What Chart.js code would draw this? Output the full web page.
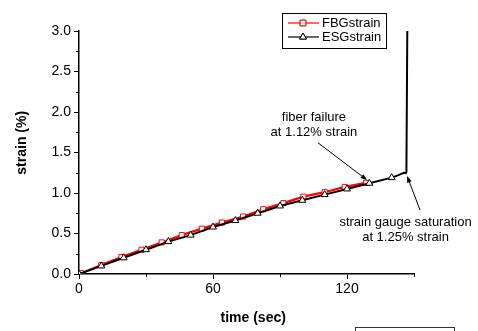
<!DOCTYPE html>
<html>
<head>
<meta charset="utf-8">
<script src="https://cdn.jsdelivr.net/npm/chart.js@4/dist/chart.umd.min.js"></script>
<style>
    body { margin: 0; background: #fff; }
    #wrap { width: 478px; height: 331px; }
</style>
</head>
<body>
<div id="wrap"><canvas id="strainChart" width="478" height="331"></canvas></div>
<script>
// data
const fbgLabel = 'FBGstrain';
const fbgTime = [1, 10, 19, 28, 37, 46, 55, 64, 73.5, 82.5, 91.5, 100.5, 110, 119, 128.5];
const fbgStrain = [0.01, 0.11, 0.21, 0.30, 0.39, 0.48, 0.56, 0.635, 0.71, 0.80, 0.875, 0.955, 1.01, 1.075, 1.125];

const esgLabel = 'ESGstrain';
const esgTime = [0, 10, 20, 30, 40, 50, 60, 70, 80, 90, 100, 110, 120, 130, 140, 143, 145.5, 146.3, 146.6, 147];
const esgStrain = [0, 0.10, 0.20, 0.30, 0.40, 0.48, 0.58, 0.66, 0.75, 0.84, 0.91, 0.98, 1.05, 1.12, 1.19, 1.22, 1.25, 1.245, 1.26, 3.0];
// triangles only on the 10 s samples
const esgMarked = [true, true, true, true, true, true, true, true, true, true, true, true, true, true, true, false, false, false, false, false];

const xTicks = [0, 60, 120];
const xMinor = [30, 90, 150];
const yTicks = [0, 0.5, 1.0, 1.5, 2.0, 2.5, 3.0];
const yMinor = [0.25, 0.75, 1.25, 1.75, 2.25, 2.75];

const xTitle = 'time (sec)';
const yTitle = 'strain (%)';

// annotations: text anchor and arrow in data units
const notes = [
    { lines: ['fiber failure', 'at 1.12% strain'], t: 105.2, s: 1.93, from: [107, 1.62], to: [129, 1.16] },
    { lines: ['strain gauge saturation', 'at 1.25% strain'], t: 146.2, s: 0.64, from: [152.7, 0.79], to: [146.9, 1.21] }
];

const FONT = '"Liberation Sans", Arial, sans-serif';

function toPoints(xs, ys) {
    return xs.map((x, i) => ({ x: x, y: ys[i] }));
}

// arrow with a small filled head
function drawArrow(ctx, x1, y1, x2, y2) {
    const ang = Math.atan2(y2 - y1, x2 - x1);
    const head = 7;
    ctx.beginPath();
    ctx.moveTo(x1, y1);
    ctx.lineTo(x2 - Math.cos(ang) * 4, y2 - Math.sin(ang) * 4);
    ctx.stroke();
    ctx.beginPath();
    ctx.moveTo(x2, y2);
    ctx.lineTo(x2 - head * Math.cos(ang - 0.35), y2 - head * Math.sin(ang - 0.35));
    ctx.lineTo(x2 - head * Math.cos(ang + 0.35), y2 - head * Math.sin(ang + 0.35));
    ctx.closePath();
    ctx.fill();
}

// legend box, titles, minor ticks, annotations
const extras = {
    id: 'extras',
    afterDraw(chart) {
        const ctx = chart.ctx;
        const xs = chart.scales.x;
        const ys = chart.scales.y;
        const area = chart.chartArea;
        ctx.save();

        // short minor ticks
        ctx.strokeStyle = '#000';
        ctx.lineWidth = 1;
        ctx.beginPath();
        xMinor.forEach(v => {
            const px = Math.round(xs.getPixelForValue(v)) + 0.5;
            ctx.moveTo(px, area.bottom);
            ctx.lineTo(px, area.bottom + 3);
        });
        yMinor.forEach(v => {
            const py = Math.round(ys.getPixelForValue(v)) + 0.5;
            ctx.moveTo(area.left, py);
            ctx.lineTo(area.left - 3, py);
        });
        ctx.stroke();

        // axis titles
        ctx.fillStyle = '#000';
        ctx.font = 'bold 14px ' + FONT;
        ctx.textAlign = 'center';
        ctx.textBaseline = 'middle';
        ctx.fillText(xTitle, xs.getPixelForValue(78), 318);
        ctx.save();
        ctx.translate(22, ys.getPixelForValue(1.62));
        ctx.rotate(-Math.PI / 2);
        ctx.fillText(yTitle, 0, 0);
        ctx.restore();

        // notes
        ctx.font = '13px ' + FONT;
        ctx.strokeStyle = '#000';
        ctx.lineWidth = 1;
        notes.forEach(n => {
            const cx = xs.getPixelForValue(n.t);
            const cy = ys.getPixelForValue(n.s);
            n.lines.forEach((line, i) => ctx.fillText(line, cx, cy + i * 15));
            drawArrow(ctx,
                xs.getPixelForValue(n.from[0]), ys.getPixelForValue(n.from[1]),
                xs.getPixelForValue(n.to[0]), ys.getPixelForValue(n.to[1]));
        });

        // legend
        ctx.strokeStyle = '#000';
        ctx.lineWidth = 1;
        ctx.strokeRect(282.5, 13.5, 104, 35);
        const rows = [
            { label: fbgLabel, color: '#ff0000', style: 'rect', y: 23 },
            { label: esgLabel, color: '#000000', style: 'triangle', y: 37 }
        ];
        rows.forEach(r => {
            ctx.strokeStyle = r.color;
            ctx.lineWidth = 1.2;
            ctx.beginPath();
            ctx.moveTo(288, r.y);
            ctx.lineTo(319, r.y);
            ctx.stroke();
            ctx.fillStyle = '#fff';
            ctx.lineWidth = 1;
            Chart.helpers.drawPoint(ctx, { pointStyle: r.style, radius: 4, rotation: 0, borderWidth: 1 }, 303, r.y);
            ctx.fill();
            ctx.stroke();
            ctx.fillStyle = '#000';
            ctx.textAlign = 'left';
            ctx.font = '13px ' + FONT;
            ctx.fillText(r.label, 322, r.y + 0.5);
        });

        // stray frame at the bottom edge
        ctx.strokeStyle = '#333';
        ctx.strokeRect(355.5, 327.5, 99, 20);

        ctx.restore();
    }
};

function isMajor(list, v) {
    return list.some(m => Math.abs(m - v) < 1e-6);
}

function makeChart() {
    const ctx = document.getElementById('strainChart').getContext('2d');
    return new Chart(ctx, {
        type: 'scatter',
        data: {
            datasets: [
                {
                    label: esgLabel,
                    data: toPoints(esgTime, esgStrain),
                    showLine: true,
                    borderColor: '#000',
                    borderWidth: 2,
                    pointStyle: 'triangle',
                    pointRadius: esgMarked.map(m => m ? 4 : 0),
                    pointBackgroundColor: '#fff',
                    pointBorderColor: '#000',
                    pointBorderWidth: 1,
                    order: 0
                },
                {
                    label: fbgLabel,
                    data: toPoints(fbgTime, fbgStrain),
                    showLine: true,
                    borderColor: '#ff0000',
                    borderWidth: 2.2,
                    pointStyle: 'rect',
                    pointRadius: 3.6,
                    pointBackgroundColor: '#fff',
                    pointBorderColor: '#ff0000',
                    pointBorderWidth: 1,
                    order: 1
                }
            ]
        },
        options: {
            responsive: false,
            animation: false,
            layout: { padding: { left: 0, top: 31, right: 64, bottom: 0 } },
            plugins: {
                legend: { display: false },
                tooltip: { enabled: false }
            },
            scales: {
                x: {
                    type: 'linear',
                    min: 0,
                    max: 150,
                    afterFit: s => { s.height = 57; },
                    afterBuildTicks: s => {
                        s.ticks = xTicks.map(v => ({ value: v }));
                    },
                    ticks: {
                        color: '#000',
                        font: { family: FONT, size: 14 },
                        padding: 2,
                        maxRotation: 0,
                        callback: v => String(v)
                    },
                    grid: { drawOnChartArea: false, tickLength: 5, tickColor: '#000', tickWidth: 1 },
                    border: { display: true, color: '#000', width: 1.5 }
                },
                y: {
                    type: 'linear',
                    min: 0,
                    max: 3,
                    afterFit: s => { s.width = 79; },
                    afterBuildTicks: s => {
                        s.ticks = yTicks.map(v => ({ value: v }));
                    },
                    ticks: {
                        color: '#000',
                        font: { family: FONT, size: 14 },
                        padding: 3,
                        callback: v => isMajor(yTicks, v) ? v.toFixed(1) : ''
                    },
                    grid: { drawOnChartArea: false, tickLength: 5, tickColor: '#000', tickWidth: 1 },
                    border: { display: true, color: '#000', width: 1.5 }
                }
            }
        },
        plugins: [extras]
    });
}

makeChart();
</script>
</body>
</html>
